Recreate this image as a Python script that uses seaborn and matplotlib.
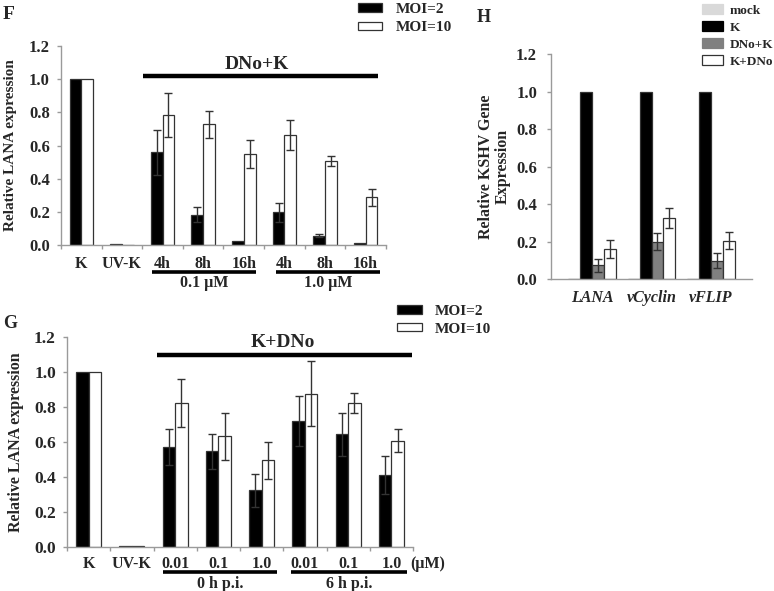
import numpy as np
import pandas as pd
import matplotlib
matplotlib.use("Agg")
import matplotlib.pyplot as plt
from matplotlib.patches import Patch
import seaborn as sns

# ── Data ────────────────────────────────────────────────────────────────────
MOI_LEVELS = ["MOI=2", "MOI=10"]

# panel F: DNo pre-treatment, then KSHV
f_keys = ["K", "UV-K", "0.1_4h", "0.1_8h", "0.1_16h", "1.0_4h", "1.0_8h", "1.0_16h"]
f_ticklabels = ["K", "UV-K", "4h", "8h", "16h", "4h", "8h", "16h"]
f_moi2 = [1.0, 0.005, 0.558, 0.183, 0.022, 0.197, 0.056, 0.010]
f_moi2_err = [0, 0, 0.137, 0.046, 0, 0.056, 0.010, 0]
f_moi10 = [1.0, 0.003, 0.785, 0.729, 0.550, 0.663, 0.504, 0.287]
f_moi10_err = [0, 0, 0.131, 0.082, 0.085, 0.088, 0.030, 0.052]

# panel G: KSHV, then DNo
g_keys = ["K", "UV-K", "0h_0.01", "0h_0.1", "0h_1.0", "6h_0.01", "6h_0.1", "6h_1.0"]
g_ticklabels = ["K", "UV-K", "0.01", "0.1", "1.0", "0.01", "0.1", "1.0"]
g_moi2 = [1.0, 0.005, 0.571, 0.547, 0.324, 0.720, 0.644, 0.410]
g_moi2_err = [0, 0, 0.105, 0.101, 0.095, 0.141, 0.124, 0.108]
g_moi10 = [1.0, 0.003, 0.823, 0.632, 0.495, 0.876, 0.825, 0.606]
g_moi10_err = [0, 0, 0.138, 0.136, 0.107, 0.187, 0.057, 0.066]

# panel H: KSHV gene expression
h_genes = ["LANA", "vCyclin", "vFLIP"]
h_treatments = ["mock", "K", "DNo+K", "K+DNo"]
h_mock = [0.0, 0.0, 0.0]
h_k = [1.0, 1.0, 1.0]
h_dnok = [0.073, 0.199, 0.098]
h_dnok_err = [0.034, 0.046, 0.040]
h_kdno = [0.160, 0.325, 0.204]
h_kdno_err = [0.050, 0.054, 0.045]

MOI_COLORS = ["#000000", "#ffffff"]
H_COLORS = ["#d9d9d9", "#000000", "#808080", "#ffffff"]
SPINE = "#9a9a9a"
ERR = "#333333"

sns.set_style("white")
plt.rcParams["font.family"] = ["Liberation Serif", "DejaVu Serif"]
plt.rcParams["font.weight"] = "bold"
plt.rcParams["axes.labelweight"] = "bold"


def long_frame(keys, levels, series):
    rows = []
    for lvl, vals in zip(levels, series):
        for k, v in zip(keys, vals):
            rows.append({"cond": k, "group": lvl, "value": v})
    return pd.DataFrame(rows)


def draw_bars(ax, df, keys, levels, colors, width):
    sns.barplot(data=df, x="cond", y="value", hue="group", order=keys,
                hue_order=levels, palette=colors, width=width, saturation=1,
                errorbar=None, edgecolor="#333333", linewidth=0.9,
                legend=False, ax=ax)
    # bars sorted left to right: category-major, hue-minor
    bars = sorted(ax.patches, key=lambda p: p.get_x())
    return [b.get_x() + b.get_width() / 2 for b in bars]


def add_errors(ax, centers, n_levels, series, errs):
    for j, (vals, err) in enumerate(zip(series, errs)):
        for i, (v, e) in enumerate(zip(vals, err)):
            if e > 0:
                ax.errorbar(centers[i * n_levels + j], v, yerr=e, fmt="none",
                            ecolor=ERR, elinewidth=1, capsize=3, capthick=1)


def style_axis(ax, ticklabels, n, ytick_size, xpad, minor=True):
    sns.despine(ax=ax)
    for s in ["left", "bottom"]:
        ax.spines[s].set_color(SPINE)
        ax.spines[s].set_linewidth(1)
    ax.set_ylim(0, 1.2)
    ax.set_yticks(np.arange(0, 1.21, 0.2))
    ax.set_yticklabels([f"{t:.1f}" for t in np.arange(0, 1.21, 0.2)],
                       fontsize=ytick_size, fontweight="bold")
    ax.set_xticks(range(n))
    ax.set_xticklabels(ticklabels, fontsize=11.5, fontweight="bold")
    ax.tick_params(axis="y", left=True, length=3, width=1, color=SPINE,
                   direction="out", pad=5)
    ax.tick_params(axis="x", which="major", bottom=True, length=0, pad=xpad)
    if minor:
        ax.set_xticks(np.arange(-0.5, n), minor=True)
        ax.tick_params(axis="x", which="minor", bottom=True, length=3,
                       width=1, color=SPINE, direction="out")
    ax.set_xlabel("")


def moi_legend(fig, x, y, spacing):
    handles = [Patch(facecolor=c, edgecolor="#333333", linewidth=0.9) for c in MOI_COLORS]
    fig.legend(handles, MOI_LEVELS, loc="upper left", bbox_to_anchor=(x, y),
               frameon=False, prop={"size": 11, "weight": "bold"},
               handlelength=1.6, handleheight=0.5, handletextpad=0.9,
               labelspacing=spacing, borderpad=0, borderaxespad=0)


fig = plt.figure(figsize=(7.74, 5.91), dpi=100)

# ── Panel F ─────────────────────────────────────────────────────────────────
axF = fig.add_axes([0.0788, 0.5854, 0.4199, 0.3367])
dfF = long_frame(f_keys, MOI_LEVELS, [f_moi2, f_moi10])
cF = draw_bars(axF, dfF, f_keys, MOI_LEVELS, MOI_COLORS, 0.58)
add_errors(axF, cF, 2, [f_moi2, f_moi10], [f_moi2_err, f_moi10_err])
style_axis(axF, f_ticklabels, len(f_keys), 12, 8)
axF.set_xlim(-0.5, len(f_keys) - 0.5)
axF.set_ylabel("Relative LANA expression", fontsize=11)
axF.yaxis.set_label_coords(-0.135, 0.5)

axF.plot([1.52, 7.31], [1.02, 1.02], color="black", lw=3.2, solid_capstyle="butt")
axF.text(4.33, 1.06, "DNo+K", ha="center", va="baseline", fontsize=14)
for lo, hi, lab in [(1.75, 4.3, "0.1 μM"), (4.8, 7.35, "1.0 μM")]:
    axF.plot([lo, hi], [-0.163, -0.163], color="black", lw=2.6,
             solid_capstyle="butt", clip_on=False)
    axF.text((lo + hi) / 2, -0.18, lab, ha="center", va="top", fontsize=11.5)

moi_legend(fig, 0.4625, 0.995, 0.35)
fig.text(0.004, 0.975, "F", fontsize=14, fontweight="bold", va="center")

# ── Panel G ─────────────────────────────────────────────────────────────────
axG = fig.add_axes([0.0866, 0.0745, 0.447, 0.3553])
dfG = long_frame(g_keys, MOI_LEVELS, [g_moi2, g_moi10])
cG = draw_bars(axG, dfG, g_keys, MOI_LEVELS, MOI_COLORS, 0.58)
add_errors(axG, cG, 2, [g_moi2, g_moi10], [g_moi2_err, g_moi10_err])
style_axis(axG, g_ticklabels, len(g_keys), 12.5, 6.5)
axG.set_xlim(-0.5, len(g_keys) - 0.5)
axG.set_ylabel("Relative LANA expression", fontsize=11.5)
axG.yaxis.set_label_coords(-0.125, 0.5)

axG.plot([1.58, 7.48], [1.097, 1.097], color="black", lw=3.2, solid_capstyle="butt")
axG.text(4.48, 1.143, "K+DNo", ha="center", va="baseline", fontsize=14)
axG.text(7.43, -0.05, "(μM)", ha="left", va="top", fontsize=11.5, clip_on=False)
for lo, hi, lab in [(1.72, 4.36, "0 h p.i."), (4.68, 7.36, "6 h p.i.")]:
    axG.plot([lo, hi], [-0.143, -0.143], color="black", lw=2.6,
             solid_capstyle="butt", clip_on=False)
    axG.text((lo + hi) / 2, -0.165, lab, ha="center", va="top", fontsize=11.5)

moi_legend(fig, 0.513, 0.484, 0.3)
fig.text(0.004, 1 - 323 / 591, "G", fontsize=13, fontweight="bold", va="center")

# ── Panel H ─────────────────────────────────────────────────────────────────
axH = fig.add_axes([0.7119, 0.5279, 0.2597, 0.3807])
h_series = [h_mock, h_k, h_dnok, h_kdno]
dfH = long_frame(h_genes, h_treatments, h_series)
cH = draw_bars(axH, dfH, h_genes, h_treatments, H_COLORS, 0.8)
add_errors(axH, cH, 4, h_series, [[0] * 3, [0] * 3, h_dnok_err, h_kdno_err])
style_axis(axH, h_genes, len(h_genes), 12, 8, minor=False)
for t in axH.get_xticklabels():
    t.set_fontstyle("italic")
axH.tick_params(axis="y", pad=7)
axH.set_xlim(-0.69, 2.69)
axH.set_ylabel("Relative KSHV Gene\nExpression", fontsize=11.5, linespacing=1.1)
axH.yaxis.set_label_coords(-0.2, 0.5)

hH = [Patch(facecolor=c, edgecolor="#333333" if c == "#ffffff" else c, linewidth=0.9)
      for c in H_COLORS]
fig.legend(hH, h_treatments, loc="upper left", bbox_to_anchor=(0.907, 0.993),
           frameon=False, prop={"size": 9.5, "weight": "bold"},
           handlelength=1.6, handleheight=0.75, handletextpad=0.5,
           labelspacing=0.35, borderpad=0, borderaxespad=0)
fig.text(477 / 774, 1 - 18 / 591, "H", fontsize=13, fontweight="bold", va="center")

plt.savefig("out.png", dpi=100)
plt.close()
